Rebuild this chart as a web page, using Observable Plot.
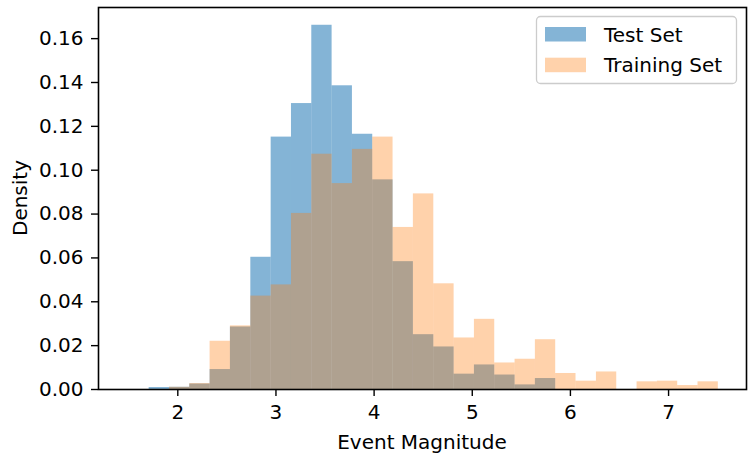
<!DOCTYPE html>
<html>
<head>
<meta charset="utf-8">
<script src="https://cdn.jsdelivr.net/npm/d3@7"></script>
<script src="https://cdn.jsdelivr.net/npm/@observablehq/plot@0.6"></script>
<style>
  html, body { margin: 0; padding: 0; background: #fff; }
  #chart svg { display: block; }
</style>
</head>
<body>
<div id="chart"></div>
<script>
// Shared bin edges (Event Magnitude)
const binEdges = [1.708, 1.915, 2.122, 2.329, 2.536, 2.744, 2.951, 3.158, 3.365, 3.572,
  3.779, 3.986, 4.193, 4.400, 4.608, 4.815, 5.022, 5.229, 5.436, 5.643,
  5.850, 6.057, 6.265, 6.472, 6.679, 6.886, 7.093, 7.300, 7.507];

// Density per bin
const testDensity = [0.0009, 0.0010, 0.0025, 0.0091, 0.0285, 0.0603, 0.1151, 0.1304, 0.1661, 0.1385,
  0.1164, 0.0956, 0.0583, 0.0250, 0.0194, 0.0070, 0.0112, 0.0066, 0.0021, 0.0050,
  0, 0, 0, 0, 0, 0, 0, 0];
const trainDensity = [0, 0.0010, 0.0027, 0.0220, 0.0290, 0.0426, 0.0477, 0.0803, 0.1073, 0.0939,
  0.1095, 0.1151, 0.0739, 0.0892, 0.0482, 0.0235, 0.0320, 0.0121, 0.0138, 0.0227,
  0.0073, 0.0038, 0.0080, 0, 0.0035, 0.0038, 0.0018, 0.0035];

const seriesNames = ["Test Set", "Training Set"];
const xTicks = [2, 3, 4, 5, 6, 7];
const yTicks = [0, 0.02, 0.04, 0.06, 0.08, 0.10, 0.12, 0.14, 0.16];
const xLabel = "Event Magnitude";
const yLabel = "Density";

const toRows = (vals, name) => vals.map((v, i) => ({x1: binEdges[i], x2: binEdges[i + 1], y: v, series: name}));
const testRows = toRows(testDensity, seriesNames[0]);
const trainRows = toRows(trainDensity, seriesNames[1]);

const blue = "#1f77b4", orange = "#ff7f0e";
const blueOp = 0.55, orangeOp = 0.35;
const FS = 20;

const chart = Plot.plot({
  width: 748,
  height: 457,
  marginLeft: 98,
  marginRight: 2,
  marginTop: 7,
  marginBottom: 68,
  style: {fontFamily: "DejaVu Sans", fontSize: FS + "px", background: "#fff", color: "#000"},
  x: {domain: [1.192, 7.794]},
  y: {domain: [0, 0.1742]},
  marks: [
    Plot.rectY(testRows, {x1: "x1", x2: "x2", y: "y", fill: blue, fillOpacity: blueOp, inset: 0}),
    Plot.rectY(trainRows, {x1: "x1", x2: "x2", y: "y", fill: orange, fillOpacity: orangeOp, inset: 0}),
    Plot.axisX({ticks: xTicks, tickFormat: d3.format("d"), tickSize: 7, tickPadding: 8, label: null, fontSize: FS, stroke: "#000", strokeWidth: 1.4}),
    Plot.axisY({ticks: yTicks, tickFormat: d3.format(".2f"), tickSize: 7, tickPadding: 8, label: null, fontSize: FS, stroke: "#000", strokeWidth: 1.4}),
    Plot.frame({stroke: "#000", strokeWidth: 1.6})
  ]
});

document.getElementById("chart").appendChild(chart);

// Axis labels and legend
const svg = d3.select(chart);
svg.append("text")
  .attr("x", 98 + (746 - 98) / 2).attr("y", 449)
  .attr("text-anchor", "middle")
  .attr("font-family", "DejaVu Sans").attr("font-size", FS)
  .attr("fill", "#000")
  .text(xLabel);
svg.append("text")
  .attr("transform", "translate(27,198) rotate(-90)")
  .attr("text-anchor", "middle")
  .attr("font-family", "DejaVu Sans").attr("font-size", FS)
  .attr("fill", "#000")
  .text(yLabel);

const lg = svg.append("g");
lg.append("rect")
  .attr("x", 536.5).attr("y", 16.5).attr("width", 200).attr("height", 67).attr("rx", 4)
  .attr("fill", "#fff").attr("fill-opacity", 0.8)
  .attr("stroke", "#cccccc").attr("stroke-width", 1.3);
const legendItems = [
  {name: seriesNames[0], color: blue, op: blueOp},
  {name: seriesNames[1], color: orange, op: orangeOp}
];
legendItems.forEach((d, i) => {
  lg.append("rect")
    .attr("x", 545).attr("y", 27 + i * 30.7).attr("width", 41).attr("height", 14.5)
    .attr("fill", d.color).attr("fill-opacity", d.op);
  lg.append("text")
    .attr("x", 604).attr("y", 41.5 + i * 30.7)
    .attr("text-anchor", "start")
    .attr("font-family", "DejaVu Sans").attr("font-size", FS)
    .attr("fill", "#000")
    .text(d.name);
});
</script>
</body>
</html>
